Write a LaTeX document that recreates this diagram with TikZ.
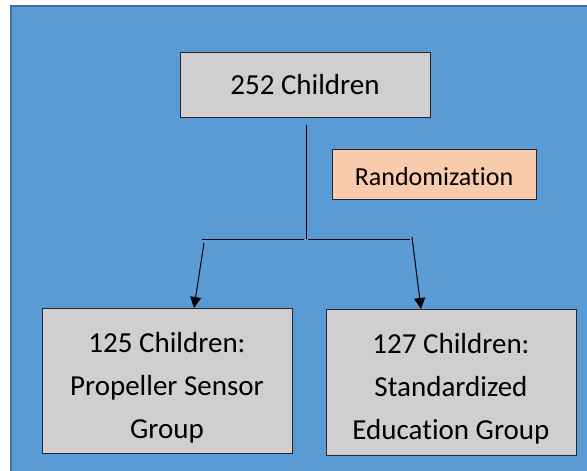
\documentclass[tikz,border=0pt]{standalone}
\usepackage{fontspec}
\setmainfont{Carlito}[Ligatures=NoCommon]
\usetikzlibrary{arrows.meta}
\definecolor{bgblue}{HTML}{5B9BD5}
\definecolor{bgedge}{HTML}{41719C}
\definecolor{boxgray}{HTML}{D0CECE}
\definecolor{peach}{HTML}{F8CBAD}
\newcommand{\topstrut}{\rule{0pt}{34pt}}
\tikzset{
  box/.style={draw=black!85, line width=1pt, fill=boxgray, minimum width=250pt,
    inner sep=0pt, align=center, font=\fontsize{29}{43}\selectfont},
  link/.style={line width=1pt},
  arr/.style={link, -{Triangle[length=11pt,width=11pt]}}
}
\begin{document}
\begin{tikzpicture}[x=1pt,y=-1pt]
  \useasboundingbox (0,0) rectangle (587,471);
  \draw[fill=bgblue, draw=bgedge, line width=2pt] (11,6) rectangle (600,485);
  % boxes
  \node[box, minimum height=65pt] (top) at (305,84.5) {252 Children};
  \node[box, fill=peach, minimum width=204pt, minimum height=50pt,
    font=\fontsize{26}{30}\selectfont] (rand) at (434,174) {\rule{0pt}{24pt}Randomization};
  \node[box, minimum height=145pt] (left) at (167,380.5)
    {\topstrut 125 Children:\\Propeller Sensor\\Group};
  \node[box, minimum height=146pt] (right) at (451,382)
    {\topstrut 127 Children:\\Standardized\\Education Group};
  % split
  \coordinate (split) at (306,239);
  \coordinate (lhook) at (202,239);
  \coordinate (rhook) at (410,239);
  \coordinate (ltail) at (204,243);
  \coordinate (ltip) at (194,308);
  \coordinate (rtail) at (412,237);
  \coordinate (rtip) at (421,309);
  \draw[link, shorten <=7pt] (top.south -| split) -- (split);
  \draw[link, shorten <=2pt] (split) -- (lhook);
  \draw[link, shorten <=2pt] (split) -- (rhook);
  \draw[arr] (ltail) -- (ltip);
  \draw[arr] (rtail) -- (rtip);
\end{tikzpicture}
\end{document}
